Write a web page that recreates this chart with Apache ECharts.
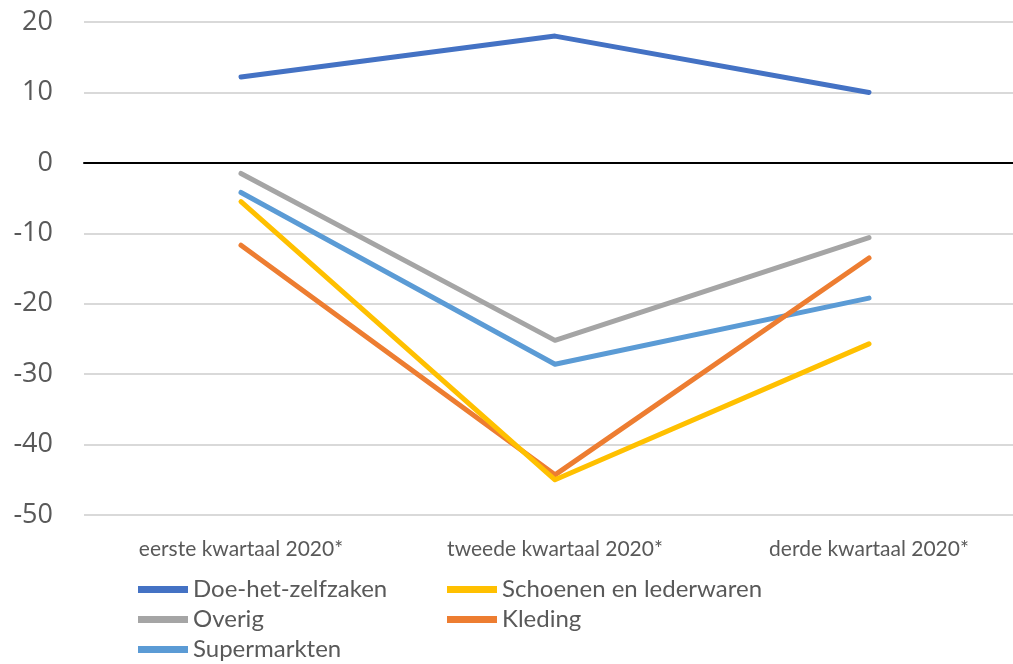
<!DOCTYPE html>
<html>
<head>
<meta charset="utf-8">
<script src="https://cdn.jsdelivr.net/npm/echarts@6/dist/echarts.min.js"></script>
<style>
  html, body { margin: 0; padding: 0; background: #fff; }
  #chart { width: 1013px; height: 664px; }
</style>
</head>
<body>
<div id="chart"></div>
<script>
var categories = ['eerste kwartaal 2020*', 'tweede kwartaal 2020*', 'derde kwartaal 2020*'];

var doeHetZelf = [12.2, 18.0, 10.0];
var overig = [-1.5, -25.2, -10.6];
var supermarkten = [-4.2, -28.6, -19.2];
var kleding = [-11.7, -44.3, -13.5];
var schoenen = [-5.5, -45.0, -25.7];

var legendOrder = ['Doe-het-zelfzaken', 'Schoenen en lederwaren', 'Overig', 'Kleding', 'Supermarkten'];

function lineSeries(name, data, color) {
    return {
        name: name,
        type: 'line',
        data: data,
        symbol: 'none',
        lineStyle: { color: color, width: 5, cap: 'round', join: 'round' },
        itemStyle: { color: color },
        emphasis: { disabled: true }
    };
}

var dom = document.getElementById('chart');
var myChart = echarts.init(dom);
var option = {
    animation: false,
    // plot area runs past the right edge of the picture, like the original
    grid: { left: 84, width: 942, top: 22, height: 493, containLabel: false, outerBoundsMode: 'none' },
    legend: {
        data: legendOrder,
        left: 133,
        top: 572,
        width: 640,
        orient: 'horizontal',
        itemWidth: 50,
        itemHeight: 7,
        itemGap: 5,
        icon: 'rect',
        textStyle: {
            fontFamily: 'Lato',
            fontSize: 24,
            color: '#595959',
            width: 249,
            lineHeight: 25
        }
    },
    xAxis: {
        type: 'category',
        data: categories,
        boundaryGap: true,
        axisLine: { onZero: true, lineStyle: { color: '#000', width: 2 } },
        axisTick: { show: false },
        axisLabel: {
            interval: 0,
            margin: 24,
            fontFamily: 'Lato',
            fontSize: 21,
            color: '#595959'
        }
    },
    yAxis: {
        type: 'value',
        min: -50,
        max: 20,
        interval: 10,
        axisLine: { show: false },
        axisTick: { show: false },
        splitLine: { lineStyle: { color: '#D9D9D9', width: 2 } },
        axisLabel: {
            margin: 31,
            fontFamily: 'Open Sans',
            fontSize: 27,
            color: '#595959'
        }
    },
    series: [
        lineSeries('Doe-het-zelfzaken', doeHetZelf, '#4472C4'),
        lineSeries('Overig', overig, '#A5A5A5'),
        lineSeries('Supermarkten', supermarkten, '#5B9BD5'),
        lineSeries('Kleding', kleding, '#ED7D31'),
        lineSeries('Schoenen en lederwaren', schoenen, '#FFC000')
    ]
};
myChart.setOption(option);
</script>
</body>
</html>
